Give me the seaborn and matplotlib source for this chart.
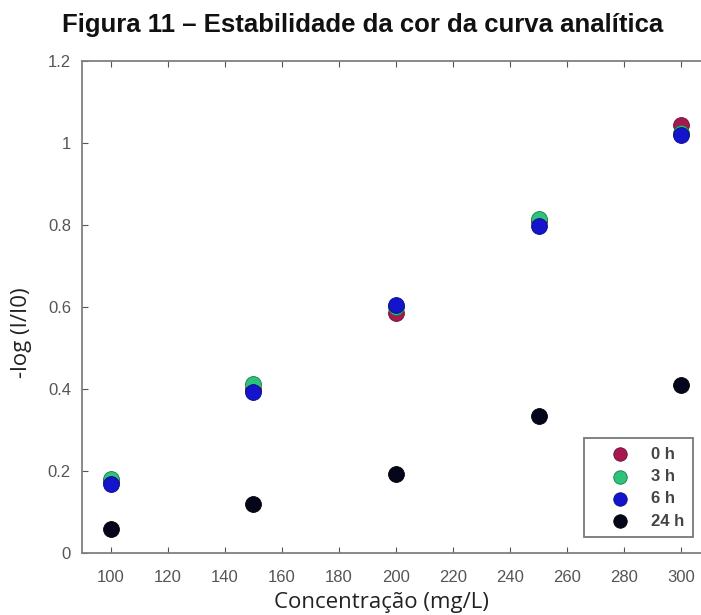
import pandas as pd
import numpy as np
import matplotlib
matplotlib.use("Agg")
import matplotlib.pyplot as plt
import seaborn as sns

# Data
concentracao = [100, 150, 200, 250, 300]
abs_0h = [0.175, 0.400, 0.585, 0.810, 1.045]
abs_3h = [0.180, 0.412, 0.600, 0.815, 1.025]
abs_6h = [0.168, 0.393, 0.605, 0.798, 1.020]
abs_24h = [0.058, 0.120, 0.192, 0.335, 0.410]
series_labels = ["0 h", "3 h", "6 h", "24 h"]
series_colors = ["#a8174f", "#2fc27a", "#1414cc", "#05051c"]

# Build long table for seaborn
def build_table():
    rows = []
    for label, vals in zip(series_labels, [abs_0h, abs_3h, abs_6h, abs_24h]):
        for c, v in zip(concentracao, vals):
            rows.append({"conc": c, "abs": v, "tempo": label})
    return pd.DataFrame(rows)

def plot(df):
    sns.set_style("white")
    plt.rcParams["font.family"] = ["Liberation Sans", "DejaVu Sans"]
    fig = plt.figure(figsize=(7.01, 6.15), dpi=100)
    # axes box: left 82px, top 61px, bottom 553px, runs past the right edge
    ax = fig.add_axes([82 / 701, 1 - 553 / 615, 628 / 701, 492 / 615])

    edge = ["#6a0f33", "#137a45", "#0a0a80", "#000000"]
    for label, col, ec in zip(series_labels, series_colors, edge):
        sub = df[df["tempo"] == label]
        sns.scatterplot(data=sub, x="conc", y="abs", color=col, edgecolor=ec,
                        linewidth=0.6, s=130, ax=ax, label=label, zorder=3)

    ax.set_xlim(90, 310)
    ax.set_ylim(0, 1.2)
    ax.set_xticks(np.arange(100, 301, 20))
    ax.set_yticks([0, 0.2, 0.4, 0.6, 0.8, 1.0, 1.2])
    ax.set_yticklabels(["0", "0.2", "0.4", "0.6", "0.8", "1", "1.2"])
    ax.tick_params(direction="in", length=4, color="#555555", labelcolor="#555555",
                   labelsize=12, top=True, right=True, bottom=True, left=True)
    ax.tick_params(axis="x", pad=12)
    ax.tick_params(axis="y", pad=8)
    for sp in ax.spines.values():
        sp.set_color("#808080")
        sp.set_linewidth(1.3)

    ax.set_xlabel("Concentração (mg/L)", fontsize=16, color="#222222",
                  family=["Open Sans", "DejaVu Sans"])
    ax.xaxis.label.set_va("baseline")
    ax.xaxis.set_label_coords((381 - 82) / 628, -(608 - 553) / 492)
    ax.set_ylabel("-log (I/I0)", fontsize=16, color="#222222",
                  family=["Open Sans", "DejaVu Sans"])
    ax.yaxis.label.set_va("center")
    ax.yaxis.set_label_coords(-(82 - 22) / 628, (553 - 333) / 492)

    leg = ax.legend(loc="lower right", bbox_to_anchor=(0.973, 0.0325),
                    borderaxespad=0, frameon=True, fancybox=False, edgecolor="#555555",
                    fontsize=12, handlelength=3.3, handletextpad=0.26, borderpad=0.5,
                    labelspacing=0.44, markerscale=0.85)
    leg.get_frame().set_linewidth(1.3)
    for t in leg.get_texts():
        t.set_color("#444444")
        t.set_fontweight("bold")

    fig.text(363 / 701, 1 - 32 / 615, "Figura 11 – Estabilidade da cor da curva analítica",
             ha="center", va="baseline", fontsize=18.5, fontweight="bold", color="#111111")

    fig.savefig("out.png", dpi=100)

def main():
    df = build_table()
    plot(df)

if __name__ == "__main__":
    main()
